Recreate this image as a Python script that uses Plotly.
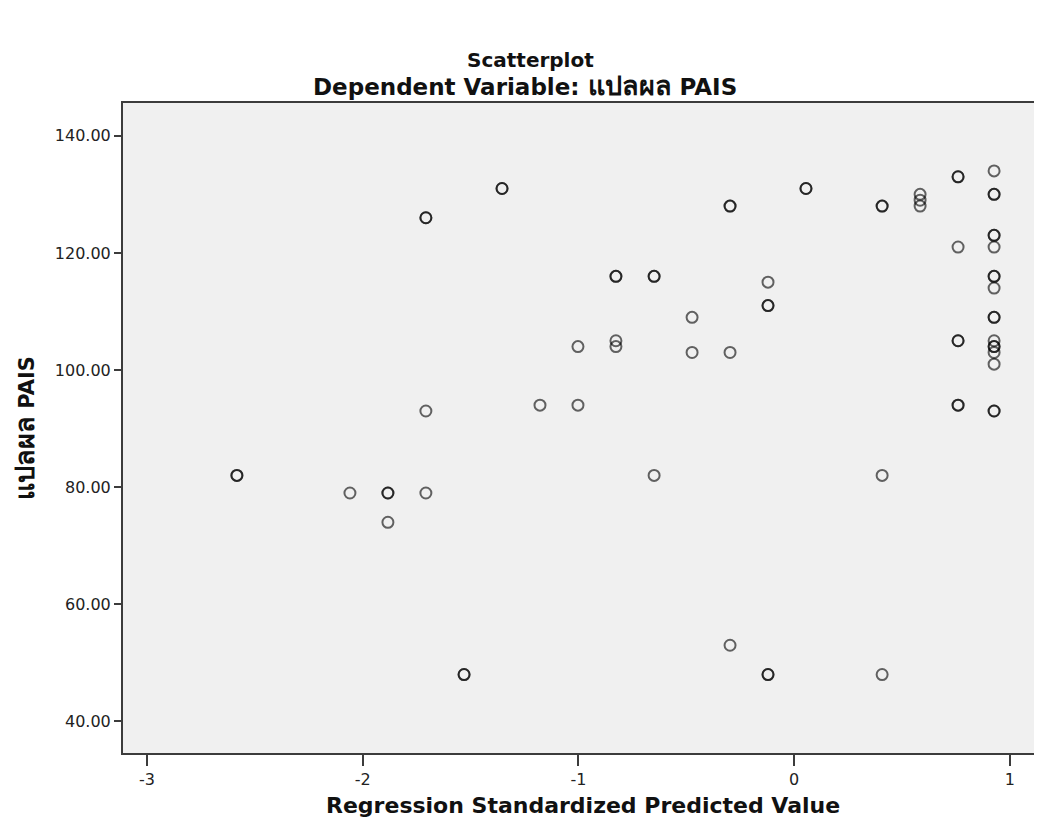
import plotly.graph_objects as go

# Observations (duplicates represent overlapping cases)
x_values = [
    -2.583, -2.583,
    -2.059,
    -1.883, -1.883, -1.883,
    -1.707, -1.707, -1.707, -1.707,
    -1.530, -1.530,
    -1.354, -1.354,
    -1.178,
    -1.002, -1.002,
    -0.826, -0.826, -0.826, -0.826,
    -0.649, -0.649, -0.649,
    -0.473, -0.473,
    -0.297, -0.297, -0.297, -0.297,
    -0.121, -0.121, -0.121, -0.121, -0.121,
    0.055, 0.055,
    0.408, 0.408, 0.408, 0.408,
    0.584, 0.584, 0.584,
    0.760, 0.760, 0.760, 0.760, 0.760, 0.760, 0.760,
    0.927, 0.927, 0.927, 0.927, 0.927, 0.927, 0.927, 0.927, 0.927,
    0.927, 0.927, 0.927, 0.927, 0.927, 0.927, 0.927, 0.927, 0.927,
]
y_values = [
    82, 82,
    79,
    79, 79, 74,
    79, 93, 126, 126,
    48, 48,
    131, 131,
    94,
    94, 104,
    105, 104, 116, 116,
    116, 116, 82,
    109, 103,
    103, 128, 128, 53,
    115, 111, 111, 48, 48,
    131, 131,
    128, 128, 82, 48,
    130, 129, 128,
    133, 133, 121, 105, 105, 94, 94,
    134, 130, 130, 123, 123, 121, 116, 116, 114,
    109, 109, 105, 104, 104, 103, 101, 93, 93,
]

x_ticks = [-3, -2, -1, 0, 1]
y_ticks = [40, 60, 80, 100, 120, 140]

title_text = "Scatterplot"
subtitle_prefix = "Dependent Variable: "
thai_var = "แปลผล"
var_suffix = " PAIS"
x_title = "Regression Standardized Predicted Value"

FONT = "DejaVu Sans, Liberation Sans, Arial, sans-serif"


def thai(size):
    return f'<span style="font-size:{size}px">{thai_var}</span>'


fig = go.Figure()
fig.add_trace(go.Scatter(
    x=x_values, y=y_values, mode="markers",
    marker=dict(symbol="circle-open", size=11,
                color="rgba(0,0,0,0.6)",
                line=dict(width=2, color="rgba(0,0,0,0.6)")),
    showlegend=False, hoverinfo="skip",
))

L, R, T, B = 123, 1034, 103, 753
W, H = R - L, B - T


def px(x):
    return (x - L) / W


def py(y):
    return (B - y) / H


axis_color = "#3c3c3c"
fig.update_layout(
    width=1045, height=832,
    margin=dict(l=L, r=1045 - R, t=T, b=832 - B),
    paper_bgcolor="white",
    plot_bgcolor="#f0f0f0",
    font=dict(family=FONT, size=16, color="#222"),
    xaxis=dict(
        range=[-3.111, 1.112], tickvals=x_ticks,
        ticktext=[str(v) for v in x_ticks],
        showgrid=False, zeroline=False,
        showline=True, linecolor=axis_color, linewidth=2, mirror=True,
        ticks="outside", ticklen=11, tickwidth=2, tickcolor=axis_color,
        tickfont=dict(size=16, color="#222"),
    ),
    yaxis=dict(
        range=[34.6, 145.6], tickvals=y_ticks,
        ticktext=[f"{v:.2f}" for v in y_ticks],
        showgrid=False, zeroline=False,
        showline=True, linecolor=axis_color, linewidth=2,
        ticks="outside", ticklen=7, tickwidth=2, tickcolor=axis_color,
        tickfont=dict(size=16, color="#222"),
    ),
    annotations=[
        dict(text=f"<b>{title_text}</b>", xref="paper", yref="paper",
             x=px(530), y=py(60), xanchor="center", yanchor="middle",
             showarrow=False, font=dict(family=FONT, size=20, color="#111")),
        dict(text=f"<b>{subtitle_prefix}{thai(27)}{var_suffix}</b>", xref="paper", yref="paper",
             x=px(525), y=py(86), xanchor="center", yanchor="middle",
             showarrow=False, font=dict(family=FONT, size=23, color="#111")),
        dict(text=f"<b>{x_title}</b>", xref="paper", yref="paper",
             x=px(583), y=py(805), xanchor="center", yanchor="middle",
             showarrow=False, font=dict(family=FONT, size=22, color="#111")),
        dict(text=f"<b>{thai(27)}{var_suffix}</b>", xref="paper", yref="paper",
             x=px(24), y=py(428), xanchor="center", yanchor="middle",
             textangle=-90, showarrow=False, font=dict(family=FONT, size=21, color="#111")),
    ],
)

fig.write_html(
    "out.html",
    config={"displayModeBar": False},
    post_script="document.body.style.margin='0';document.body.style.overflow='hidden';",
)
